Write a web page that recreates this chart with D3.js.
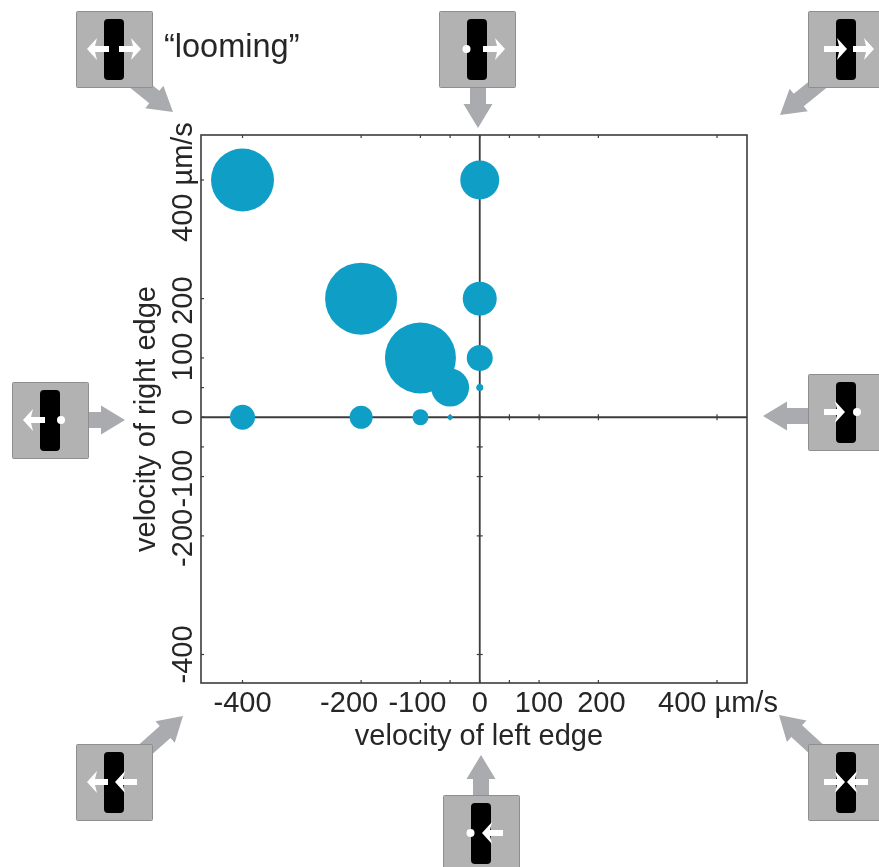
<!DOCTYPE html>
<html><head><meta charset="utf-8">
<script src="https://cdn.jsdelivr.net/npm/d3@7/dist/d3.min.js"></script>
<style>html,body{margin:0;background:#fff}svg{display:block;filter:blur(0.55px)}text{font-family:"Liberation Sans",Arial,sans-serif;fill:#262626}</style>
</head><body><svg id="c" width="879" height="867"></svg>
<script>
const leftVelocity  = [-400,    0, -200,    0, -100,    0,  -50,    0, -400, -200, -100, -50];
const rightVelocity = [ 400,  400,  200,  200,  100,  100,   50,   50,    0,    0,    0,   0];
const responseSize  = [31.5, 19.5,   36,   17, 35.5,   13,   19,  3.5, 12.5, 11.5,    8,  2.5];
const tickValues = [-400,-200,-100,-50,0,50,100,200,400];
const xLabels = [-400,-200,-100,0,100,200];
const yLabels = [-400,-200,-100,0,100,200];
const xLabel = "velocity of left edge";
const yLabel = "velocity of right edge";
const unit = "µm/s";
const noteText = "“looming”";
// stimulus icons: box corner, edge motions, left/right arrow spans, grey arrow ends
const icons = [
 {x:76,y:11,l:[33,11],r:[43,65],a:[[132,79],[173,112]]},
 {x:439,y:11,l:null,r:[44,66],a:[[478,80],[478,128]]},
 {x:808,y:11,l:[16,39],r:[45,66],a:[[826,78],[780,115]]},
 {x:12,y:382,l:[33,11],r:null,a:[[80,420],[125,420]]},
 {x:808,y:374,l:[16,37],r:null,a:[[815,416],[763,416]]},
 {x:76,y:744,l:[32,11],r:[61,39],a:[[136,758],[183,716]]},
 {x:443,y:795,l:null,r:[60,39],a:[[481,803],[481,755]]},
 {x:808,y:744,l:[16,37],r:[60,39],a:[[826,758],[779,715]]}
];
const xLabelNudge = {"-200":-12,"-100":-3,"200":3};
const yLabelNudge = {"-200":2,"-100":2,"200":2,"100":-1};
const svg = d3.select("#c");
const x = d3.scaleLinear().domain([-400,400]).range([242.5,717]);
const y = d3.scaleLinear().domain([-400,400]).range([654.5,180]);
const L=201,R=747,T=135,B=683;
const axisColor="#3c3c3c";

svg.append("rect").attr("x",L).attr("y",T).attr("width",R-L).attr("height",B-T).attr("fill","none").attr("stroke",axisColor).attr("stroke-width",1.6);
svg.append("line").attr("x1",L).attr("x2",R).attr("y1",y(0)).attr("y2",y(0)).attr("stroke",axisColor).attr("stroke-width",1.8);
svg.append("line").attr("x1",x(0)).attr("x2",x(0)).attr("y1",T).attr("y2",B).attr("stroke",axisColor).attr("stroke-width",1.8);
const vt=(cls,y0,y1)=>svg.selectAll("."+cls).data(tickValues).join("line").attr("class",cls).attr("x1",d=>x(d)).attr("x2",d=>x(d)).attr("y1",y0).attr("y2",y1).attr("stroke",axisColor).attr("stroke-width",1.2);
const ht=(cls,x0,x1)=>svg.selectAll("."+cls).data(tickValues).join("line").attr("class",cls).attr("y1",d=>y(d)).attr("y2",d=>y(d)).attr("x1",x0).attr("x2",x1).attr("stroke",axisColor).attr("stroke-width",1.2);
vt("t1",y(0)-3,y(0)+3); vt("t2",B-3,B); vt("t3",T,T+3);
ht("t4",x(0)-3,x(0)+3); ht("t5",L,L+3);

svg.selectAll("circle.b").data(leftVelocity).join("circle").attr("class","b")
  .attr("cx",d=>x(d)).attr("cy",(d,i)=>y(rightVelocity[i])).attr("r",(d,i)=>responseSize[i]).attr("fill","#0f9fc6");

const fs=29;
svg.selectAll(".xl").data(xLabels).join("text").attr("class","xl").attr("x",d=>x(d)+(xLabelNudge[d]||0)).attr("y",712).attr("text-anchor","middle").attr("font-size",fs).text(d=>d);
svg.append("text").attr("x",718).attr("y",712).attr("text-anchor","middle").attr("font-size",fs).text("400 "+unit);
svg.append("text").attr("x",479).attr("y",745).attr("text-anchor","middle").attr("font-size",fs).text(xLabel);
svg.selectAll(".yl").data(yLabels).join("text").attr("class","yl").attr("text-anchor","middle").attr("font-size",fs)
  .attr("transform",d=>`translate(192,${y(d)+(yLabelNudge[d]||0)}) rotate(-90)`).text(d=>d);
svg.append("text").attr("text-anchor","start").attr("font-size",fs).attr("transform",`translate(192,242) rotate(-90)`).text("400 "+unit);
svg.append("text").attr("text-anchor","middle").attr("font-size",fs).attr("transform",`translate(155,419) rotate(-90)`).text(yLabel);
svg.append("text").attr("x",164).attr("y",57).attr("font-size",32.5).text(noteText);

const grey="#a9abae";
function blockArrow(a){
  const [p,q]=a, dx=q[0]-p[0],dy=q[1]-p[1],len=Math.hypot(dx,dy);
  const ang=Math.atan2(dy,dx)*180/Math.PI;
  svg.append("path").attr("transform",`translate(${p[0]},${p[1]}) rotate(${ang})`).attr("fill",grey)
    .attr("d",`M0,-8L${len-24},-8L${len-24},-14.5L${len},0L${len-24},14.5L${len-24},8L0,8Z`);
}
icons.forEach(o=>blockArrow(o.a));
icons.forEach(o=>{
  const g=svg.append("g").attr("transform",`translate(${o.x},${o.y})`);
  g.append("rect").attr("x",.5).attr("y",.5).attr("width",76).attr("height",76).attr("rx",1).attr("fill","#b2b2b2").attr("stroke","#8e8e8e");
  g.append("rect").attr("x",28).attr("y",8).attr("width",20).attr("height",61).attr("rx",4).attr("fill","#000");
  const wh=([x1,x2])=>{
    const s=Math.sign(x2-x1);
    g.append("path").attr("fill","#fff").attr("d",`M${x1},35L${x2-s*8},35L${x2-s*10},27L${x2},38L${x2-s*10},49L${x2-s*8},41L${x1},41Z`);
  };
  const dot=cx=>g.append("circle").attr("cx",cx).attr("cy",38).attr("r",4).attr("fill","#fff");
  if(o.l) wh(o.l); else dot(27.5);
  if(o.r) wh(o.r); else dot(49);
});
</script></body></html>
